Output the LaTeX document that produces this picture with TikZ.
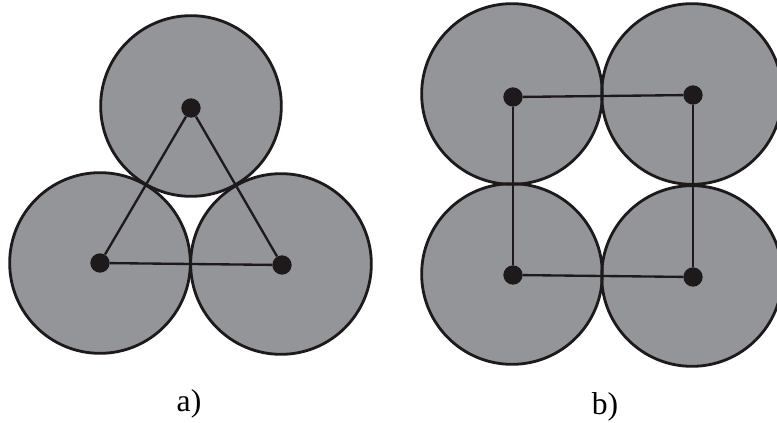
\documentclass[tikz,border=0pt]{standalone}
\usepackage{fontspec}
\setmainfont{Liberation Serif}
\definecolor{discgray}{RGB}{147,149,153}
\definecolor{inkblack}{RGB}{30,26,27}
\tikzset{
  disc/.style={circle,fill=discgray,inner sep=0pt,minimum size=5.42cm},
  rim/.style={circle,draw=inkblack,line width=2.4pt,inner sep=0pt,minimum size=5.42cm},
  dot/.style={circle,fill=inkblack,inner sep=0pt,minimum size=0.58cm},
  bond/.style={draw=inkblack,line width=2pt},
  lbl/.style={anchor=base,inner sep=0pt,font=\fontsize{27}{30}\selectfont}
}
\begin{document}
\begin{tikzpicture}[x=0.03cm,y=-0.03cm]
\useasboundingbox (0,0) rectangle (777,423);
% Discs
\node[disc] (a1) at (191,106) {};
\node[disc] (a2) at (100,263) {};
\node[disc] (a3) at (281,264) {};
\node[disc] (b1) at (512,94) {};
\node[disc] (b2) at (692,94) {};
\node[disc] (b3) at (512,274) {};
\node[disc] (b4) at (692,276) {};
\foreach \n in {a1,a2,a3,b1,b2,b3,b4}
  \node[rim] at (\n) {};
% Centres
\node[dot] (p1) at (191,108) {};
\node[dot] (p2) at (100,263) {};
\node[dot] (p3) at (282,265) {};
\node[dot] (q1) at (513,97) {};
\node[dot] (q2) at (693,95) {};
\node[dot] (q3) at (513,275) {};
\node[dot] (q4) at (693,277) {};
% Edges
\draw[bond] (p1) -- (p2);
\draw[bond] (p1) -- (p3);
\draw[bond] (p2) -- (p3);
\draw[bond] (q1) -- (q2);
\draw[bond] (q1) -- (q3);
\draw[bond] (q2) -- (q4);
\draw[bond] (q3) -- (q4);
% Labels
\node[lbl] (la) at (189,411) {a)};
\node[lbl] (lb) at (605,414) {b)};
\end{tikzpicture}
\end{document}
